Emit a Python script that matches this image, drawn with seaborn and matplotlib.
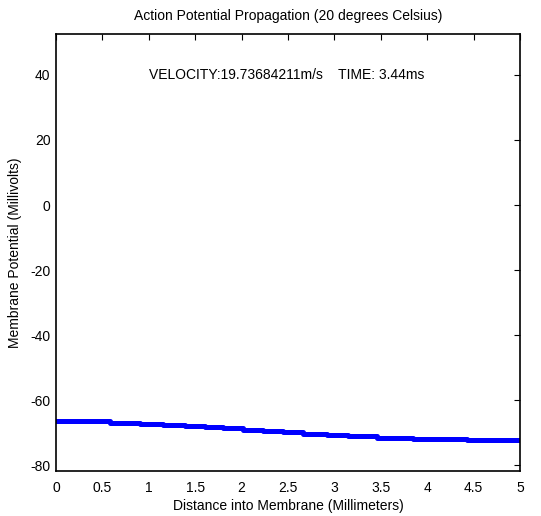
import matplotlib
matplotlib.use("Agg")
import matplotlib.pyplot as plt
import seaborn as sns
import pandas as pd
import numpy as np

# Step breakpoints (mm) and membrane potential (mV)
distance_mm = [0.0, 0.58, 0.905, 1.157, 1.39, 1.605, 1.80, 2.02, 2.23, 2.45,
               2.665, 2.92, 3.15, 3.455, 3.85, 4.425, 5.0]
potential_mv = [-66.5, -66.9, -67.3, -67.6, -68.0, -68.3, -68.7, -69.1, -69.5,
                -69.9, -70.3, -70.7, -71.1, -71.5, -71.9, -72.3, -72.3]
x_ticks = [0, 0.5, 1, 1.5, 2, 2.5, 3, 3.5, 4, 4.5, 5]
x_tick_labels = ["0", "0.5", "1", "1.5", "2", "2.5", "3", "3.5", "4", "4.5", "5"]
y_ticks = [-80, -60, -40, -20, 0, 20, 40]
y_tick_labels = ["-80", "-60", "-40", "-20", "0", "20", "40"]

title = "Action Potential Propagation (20 degrees Celsius)"
annotation = "VELOCITY:19.73684211m/s    TIME: 3.44ms"
xlabel = "Distance into Membrane (Millimeters)"
ylabel = "Membrane Potential (Millivolts)"

sns.set_style("white")
plt.rcParams['font.family'] = ['Liberation Sans', 'DejaVu Sans']
plt.rcParams['text.color'] = 'black'
plt.rcParams['axes.labelcolor'] = 'black'

df = pd.DataFrame({"x": distance_mm, "y": potential_mv})

fig = plt.figure(figsize=(5.41, 5.16), dpi=100)
ax = fig.add_axes([56 / 541, 1 - 471 / 516, (520 - 56) / 541, (471 - 34) / 516])

sns.lineplot(data=df, x="x", y="y", ax=ax, color="#0000ff", linewidth=3.6,
             drawstyle="steps-post", estimator=None, sort=False)

ax.set_xlim(0, 5)
ax.set_ylim(-81.8, 52.6)
ax.set_xticks(x_ticks)
ax.set_xticklabels(x_tick_labels)
ax.set_yticks(y_ticks)
ax.set_yticklabels(y_tick_labels)
ax.tick_params(direction="in", length=4, width=0.8, top=True, right=True,
               labelsize=10, colors="black", pad=4)
ax.tick_params(axis="x", pad=7)
for s in ax.spines.values():
    s.set_visible(True)
    s.set_color("black")
    s.set_linewidth(1.2)

ax.set_title(title, fontsize=10, pad=10, color="black")
ax.set_xlabel(xlabel, fontsize=10, labelpad=3, color="black")
ax.set_ylabel(ylabel, fontsize=10, labelpad=6, color="black")
ax.text(1.0, 40, annotation, fontsize=10, ha="left", va="center", color="black")

fig.savefig("out.png", dpi=100)
